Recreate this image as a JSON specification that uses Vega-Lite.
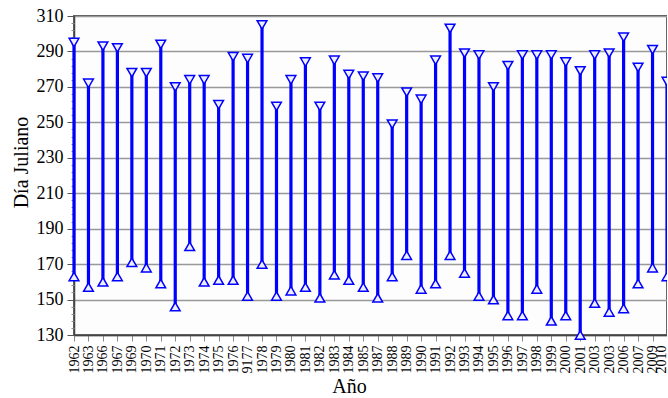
{
  "$schema": "https://vega.github.io/schema/vega-lite/v6.json",
  "autosize": "none",
  "padding": {"left": 74, "top": 16, "right": 0, "bottom": 63},
  "width": 593,
  "height": 319,
  "background": "white",
  "config": {
    "font": "Liberation Serif",
    "view": {"stroke": "#555555", "strokeWidth": 1.8, "fill": "#fdfdfd"}
  },
  "data": {
    "values": [
      {"Año": "1962", "inicio": 163, "fin": 295},
      {"Año": "1963", "inicio": 157, "fin": 272},
      {"Año": "1966", "inicio": 160, "fin": 293},
      {"Año": "1967", "inicio": 163, "fin": 292},
      {"Año": "1969", "inicio": 171, "fin": 278},
      {"Año": "1970", "inicio": 168, "fin": 278},
      {"Año": "1971", "inicio": 159, "fin": 294},
      {"Año": "1972", "inicio": 146, "fin": 270},
      {"Año": "1973", "inicio": 180, "fin": 274},
      {"Año": "1974", "inicio": 160, "fin": 274},
      {"Año": "1975", "inicio": 161, "fin": 260},
      {"Año": "1976", "inicio": 161, "fin": 287},
      {"Año": "9177", "inicio": 152, "fin": 286},
      {"Año": "1978", "inicio": 170, "fin": 305},
      {"Año": "1979", "inicio": 152, "fin": 259},
      {"Año": "1980", "inicio": 155, "fin": 274},
      {"Año": "1981", "inicio": 157, "fin": 284},
      {"Año": "1982", "inicio": 151, "fin": 259},
      {"Año": "1983", "inicio": 164, "fin": 285},
      {"Año": "1984", "inicio": 161, "fin": 277},
      {"Año": "1985", "inicio": 157, "fin": 276},
      {"Año": "1987", "inicio": 151, "fin": 275},
      {"Año": "1988", "inicio": 163, "fin": 249},
      {"Año": "1989", "inicio": 175, "fin": 267},
      {"Año": "1990", "inicio": 156, "fin": 263},
      {"Año": "1991", "inicio": 159, "fin": 285},
      {"Año": "1992", "inicio": 175, "fin": 303},
      {"Año": "1993", "inicio": 165, "fin": 289},
      {"Año": "1994", "inicio": 152, "fin": 288},
      {"Año": "1995", "inicio": 150, "fin": 270},
      {"Año": "1996", "inicio": 141, "fin": 282},
      {"Año": "1997", "inicio": 141, "fin": 288},
      {"Año": "1998", "inicio": 156, "fin": 288},
      {"Año": "1999", "inicio": 138, "fin": 288},
      {"Año": "2000", "inicio": 141, "fin": 284},
      {"Año": "2001", "inicio": 130, "fin": 279},
      {"Año": "2003", "inicio": 148, "fin": 288},
      {"Año": "2003 ", "inicio": 143, "fin": 289},
      {"Año": "2006", "inicio": 145, "fin": 298},
      {"Año": "2007", "inicio": 159, "fin": 281},
      {"Año": "2009", "inicio": 168, "fin": 291},
      {"Año": "2010", "inicio": 163, "fin": 273}
    ]
  },
  "encoding": {
    "x": {
      "field": "Año",
      "type": "nominal",
      "sort": null,
      "scale": {"type": "point", "padding": 0},
      "axis": {
        "title": "Año",
        "titleFontSize": 20,
        "titleFontWeight": "normal",
        "titleColor": "#000000",
        "titlePadding": 3,
        "titleX": 275,
        "labelAngle": -90,
        "labelFontSize": 14,
        "labelColor": "#000000",
        "labelPadding": 4,
        "labelOverlap": false,
        "labelOffset": {"condition": {"test": "datum.label == '2010'", "value": -6}, "value": 0},
        "tickSize": 6,
        "tickColor": "#888888",
        "domainColor": "#444444",
        "domainWidth": 1.5,
        "grid": false
      }
    }
  },
  "layer": [
    {
      "mark": {"type": "rule", "color": "#0000ff", "strokeWidth": 3.2},
      "encoding": {
        "y": {
          "field": "inicio",
          "type": "quantitative",
          "scale": {"domain": [130, 310], "nice": false, "zero": false},
          "axis": {
            "title": "Día Juliano",
            "titleFontSize": 20,
            "titleFontWeight": "normal",
            "titleColor": "#000000",
            "titlePadding": 5,
            "titleY": 146,
            "values": [130, 150, 170, 190, 210, 230, 250, 270, 290, 310],
            "labelFontSize": 18,
            "labelColor": "#000000",
            "labelPadding": 4,
            "tickSize": 7,
            "tickColor": "#555555",
            "domainColor": "#444444",
            "domainWidth": 1.5,
            "grid": true,
            "gridColor": "#999999",
            "gridWidth": 1.6
          }
        },
        "y2": {"field": "fin"}
      }
    },
    {
      "mark": {"type": "point", "shape": "triangle-up", "filled": true, "fill": "#eeeeff", "stroke": "#0000ff", "strokeWidth": 1.5, "size": 95, "opacity": 1},
      "encoding": {
        "y": {
          "field": "inicio",
          "type": "quantitative",
          "axis": {
            "orient": "left",
            "title": null,
            "labels": false,
            "grid": false,
            "domain": false,
            "tickSize": 3,
            "tickColor": "#888888",
            "values": [134, 138, 142, 146, 154, 158, 162, 166, 174, 178, 182, 186, 194, 198, 202, 206, 214, 218, 222, 226, 234, 238, 242, 246, 254, 258, 262, 266, 274, 278, 282, 286, 294, 298, 302, 306]
          }
        }
      }
    },
    {
      "mark": {"type": "point", "shape": "triangle-down", "filled": true, "fill": "#eeeeff", "stroke": "#0000ff", "strokeWidth": 1.5, "size": 95, "opacity": 1},
      "encoding": {
        "y": {"field": "fin", "type": "quantitative", "axis": null}
      }
    }
  ],
  "resolve": {"axis": {"y": "independent"}}
}
